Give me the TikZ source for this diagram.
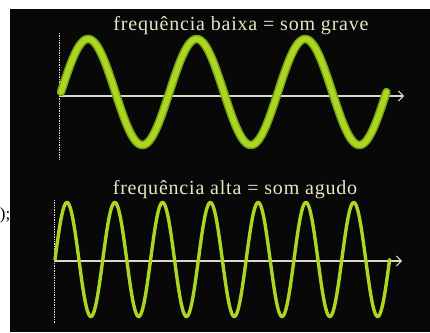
\documentclass[tikz,border=0pt]{standalone}
\usepackage{fontspec}
\setmainfont{Liberation Serif}
\usetikzlibrary{arrows.meta, positioning}
\definecolor{boardblack}{RGB}{8, 8, 8}
\definecolor{chalkcream}{RGB}{232, 228, 196}
\definecolor{wavegreen}{RGB}{172, 214, 34}
\definecolor{waveedge}{RGB}{118, 164, 20}
\definecolor{axisgray}{RGB}{218, 216, 200}

\begin{document}
\begin{tikzpicture}[
    x=1pt, y=-1pt,
    title/.style={text=chalkcream, font=\fontsize{20}{24}\selectfont\addfontfeatures{LetterSpace=4}, inner sep=0pt},
    axisline/.style={draw=axisgray, line width=1.4pt, -{Straight Barb[length=5pt, width=10pt, line width=1pt]}},
    ordline/.style={draw=axisgray!80, line width=0.7pt, densely dotted},
    wideglow/.style={draw=waveedge, line width=8.5pt, line cap=round},
    widecore/.style={draw=wavegreen, line width=5.5pt, line cap=round},
    thinwave/.style={draw=wavegreen, line width=3.4pt, line cap=round}
]
    \useasboundingbox (0,0) rectangle (430,332);
    \fill[boardblack] (10,9) rectangle (430,332);
    \node[anchor=east, inner sep=0pt, font=\fontsize{17}{20}\selectfont] (cut) at (10.5,215) {);};

    % low frequency
    \node[title] (lowtitle) at (241,26) {frequência baixa = som grave};
    \coordinate (lowtop) at (59,33);
    \coordinate (lowbot) at (59,160);
    \coordinate (loworig) at (59,96);
    \coordinate (lowend) at (404,96);
    \draw[ordline] (lowtop) -- (lowbot);
    \draw[axisline] (loworig) -- (lowend);
    \draw[wideglow] plot[domain=0:1080, samples=240] ({61+\x/360*108.5}, {92-53*sin(\x)});
    \draw[widecore] plot[domain=0:1080, samples=240] ({61+\x/360*108.5}, {92-53*sin(\x)});

    % high frequency
    \node[title] (hightitle) at (235,190) {frequência alta = som agudo};
    \coordinate (hightop) at (54,200);
    \coordinate (highbot) at (54,323);
    \coordinate (highorig) at (54,261);
    \coordinate (highend) at (402,261);
    \draw[ordline] (hightop) -- (highbot);
    \draw[axisline] (highorig) -- (highend);
    \draw[thinwave] plot[domain=0:2520, samples=500] ({55+\x/360*47.8}, {259.5-57*sin(\x)});
\end{tikzpicture}
\end{document}
